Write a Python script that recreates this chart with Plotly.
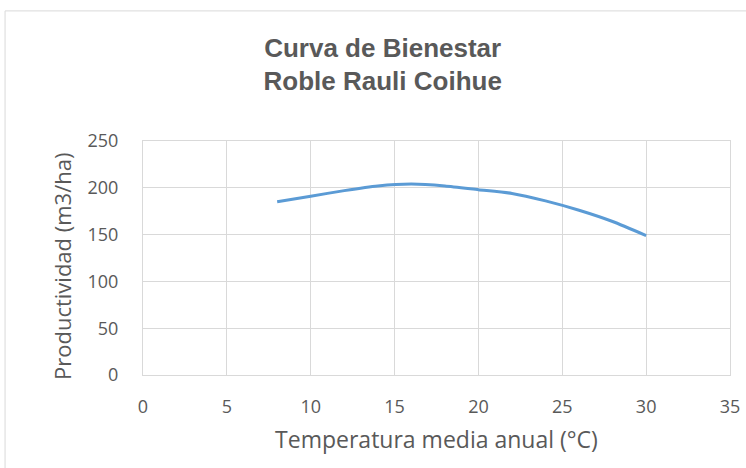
import plotly.graph_objects as go

temperatura = [8, 10, 12, 14, 16, 18, 20, 22, 24, 26, 28, 30]
productividad = [185, 191, 197, 202, 204, 202, 198, 194, 186, 176, 164, 149]

x_ticks = [0, 5, 10, 15, 20, 25, 30, 35]
y_ticks = [0, 50, 100, 150, 200, 250]

fig = go.Figure()
fig.add_trace(go.Scatter(
    x=temperatura, y=productividad, mode="lines",
    line=dict(color="#5b9bd5", width=3, shape="spline", smoothing=0.6),
    showlegend=False, hoverinfo="skip"))

tick_font = dict(family="Open Sans, sans-serif", size=18, color="#595959")
title_font = dict(family="Open Sans, sans-serif", size=23, color="#595959")
fig.update_layout(
    width=746, height=468,
    margin=dict(l=143, r=16, t=141, b=93),
    paper_bgcolor="white", plot_bgcolor="white",
    title=dict(text="<b>Curva de Bienestar<br>Roble Rauli Coihue</b>",
               x=0.513, xanchor="center", y=0.879, yanchor="middle",
               font=dict(family="Liberation Sans, Arial, sans-serif", size=26, color="#595959")),
    xaxis=dict(range=[0, 35], tickvals=x_ticks, ticktext=[str(v) for v in x_ticks],
               automargin=False,
               showgrid=True, gridcolor="#d9d9d9", gridwidth=1,
               showline=True, linecolor="#d9d9d9", mirror=True, zeroline=False,
               ticks="", tickfont=tick_font, ticklabelstandoff=15,
               ticklabeloverflow="allow",
               title=dict(text="Temperatura media anual (°C)", font=title_font, standoff=15)),
    yaxis=dict(range=[0, 250], tickvals=y_ticks, ticktext=[str(v) for v in y_ticks],
               automargin=False,
               showgrid=True, gridcolor="#d9d9d9", gridwidth=1,
               showline=True, linecolor="#d9d9d9", mirror=True, zeroline=False,
               ticks="", tickfont=tick_font, ticklabelstandoff=20,
               ticklabeloverflow="allow"),
    annotations=[dict(text="Productividad (m3/ha)", textangle=-90,
                      xref="paper", yref="paper", x=(62 - 143) / 587, y=(375 - 267) / 234,
                      xanchor="center", yanchor="middle", showarrow=False,
                      font=dict(family="Open Sans, sans-serif", size=22, color="#595959"))],
    shapes=[dict(type="rect", xref="paper", yref="paper",
                 x0=-0.235, x1=1.2, y0=-0.6, y1=1.556,
                 line=dict(color="#d9d9d9", width=1), fillcolor="rgba(0,0,0,0)", layer="below")],
)

fig.write_html("out.html", config={"displayModeBar": False},
               post_script="document.body.style.margin='0';document.body.style.overflow='hidden';")
